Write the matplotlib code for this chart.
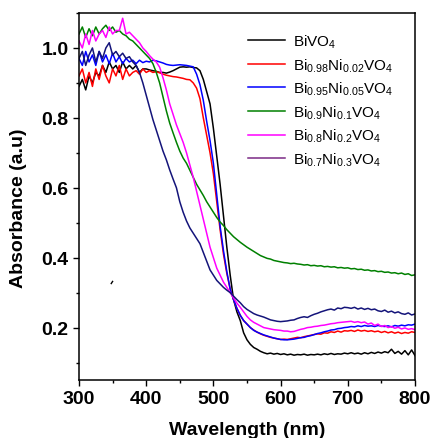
import numpy as np
import matplotlib
matplotlib.use("Agg")
import matplotlib.pyplot as plt
from matplotlib.ticker import MultipleLocator

plt.rcParams['font.family'] = ['Liberation Sans', 'DejaVu Sans']
plt.rcParams['mathtext.fontset'] = 'custom'
plt.rcParams['mathtext.rm'] = 'Liberation Sans'
plt.rcParams['mathtext.it'] = 'Liberation Sans:italic'
plt.rcParams['mathtext.bf'] = 'Liberation Sans:bold'

# wavelength grid, 5 nm steps
wavelength = np.arange(300, 801, 5)

bivo4 = [
    0.89, 0.91, 0.88, 0.92, 0.90, 0.93, 0.92, 0.95, 0.93, 0.96,
    0.94, 0.95, 0.93, 0.96, 0.94, 0.95, 0.94, 0.95, 0.93, 0.94,
    0.94, 0.937, 0.935, 0.933, 0.93, 0.93, 0.928, 0.931, 0.935, 0.94,
    0.945, 0.946, 0.945, 0.946, 0.944, 0.943, 0.935, 0.91, 0.875, 0.84,
    0.77, 0.69, 0.61, 0.52, 0.43, 0.35, 0.28, 0.245, 0.22, 0.185,
    0.165, 0.152, 0.143, 0.138, 0.132, 0.128, 0.125, 0.127, 0.124, 0.126,
    0.123, 0.125, 0.122, 0.124, 0.121, 0.123, 0.122, 0.124, 0.121, 0.123,
    0.122, 0.124, 0.122, 0.125, 0.123, 0.126, 0.123, 0.125, 0.124, 0.127,
    0.125, 0.128, 0.125, 0.127, 0.124, 0.128, 0.125, 0.129, 0.126, 0.130,
    0.127, 0.131, 0.128, 0.138, 0.126, 0.132, 0.124, 0.134, 0.122, 0.136,
    0.120,
]

ni002 = [
    0.92, 0.94, 0.90, 0.93, 0.89, 0.94, 0.91, 0.95, 0.92, 0.90,
    0.94, 0.92, 0.95, 0.91, 0.94, 0.92, 0.93, 0.935, 0.925, 0.94,
    0.93, 0.935, 0.93, 0.932, 0.929, 0.925, 0.922, 0.92, 0.918, 0.917,
    0.915, 0.913, 0.91, 0.909, 0.90, 0.885, 0.855, 0.80, 0.75, 0.70,
    0.64, 0.56, 0.48, 0.41, 0.355, 0.31, 0.28, 0.255, 0.235, 0.22,
    0.21, 0.20, 0.193, 0.187, 0.182, 0.178, 0.175, 0.172, 0.170, 0.168,
    0.166, 0.167, 0.166, 0.168, 0.170, 0.172, 0.171, 0.174, 0.176, 0.178,
    0.180, 0.182, 0.181, 0.185, 0.184, 0.188, 0.186, 0.190, 0.187, 0.191,
    0.190, 0.192, 0.189, 0.193, 0.190, 0.192, 0.189, 0.191, 0.188, 0.190,
    0.186, 0.189, 0.185, 0.188, 0.184, 0.187, 0.183, 0.186, 0.184, 0.188,
    0.186,
]

ni005 = [
    0.97, 0.95, 0.99, 0.96, 0.98, 0.95, 0.99, 0.96, 0.98, 0.955,
    0.985, 0.96, 0.975, 0.955, 0.97, 0.96, 0.965, 0.955, 0.965, 0.958,
    0.962, 0.96, 0.965, 0.963, 0.96, 0.957, 0.953, 0.951, 0.95, 0.951,
    0.952, 0.951, 0.95, 0.948, 0.946, 0.925, 0.895, 0.85, 0.79, 0.735,
    0.67, 0.58, 0.49, 0.42, 0.36, 0.31, 0.28, 0.255, 0.235, 0.22,
    0.21, 0.20, 0.192, 0.187, 0.183, 0.179, 0.176, 0.173, 0.170, 0.168,
    0.166, 0.165, 0.165, 0.166, 0.167, 0.169, 0.171, 0.172, 0.175, 0.177,
    0.180, 0.183, 0.185, 0.188, 0.190, 0.193, 0.194, 0.197, 0.198, 0.200,
    0.201, 0.203, 0.202, 0.205, 0.203, 0.206, 0.204, 0.205, 0.203, 0.206,
    0.204, 0.203, 0.205, 0.202, 0.206, 0.204, 0.207, 0.205, 0.208, 0.207,
    0.210,
]

ni01 = [
    1.04, 1.06, 1.03, 1.055, 1.035, 1.06, 1.04, 1.055, 1.065, 1.05,
    1.06, 1.045, 1.05, 1.04, 1.035, 1.025, 1.02, 1.01, 1.00, 0.99,
    0.98, 0.97, 0.955, 0.93, 0.90, 0.86, 0.82, 0.785, 0.757, 0.73,
    0.705, 0.685, 0.67, 0.65, 0.63, 0.61, 0.594, 0.578, 0.56, 0.545,
    0.53, 0.515, 0.502, 0.492, 0.48, 0.47, 0.46, 0.452, 0.444, 0.437,
    0.43, 0.424, 0.418, 0.412, 0.406, 0.402, 0.398, 0.396, 0.392, 0.39,
    0.388, 0.386, 0.385, 0.383, 0.384, 0.382, 0.381, 0.379, 0.38, 0.377,
    0.378, 0.376, 0.377, 0.374, 0.375, 0.373, 0.374, 0.371, 0.372, 0.37,
    0.371, 0.368, 0.369, 0.366, 0.367, 0.364, 0.365, 0.362, 0.363, 0.36,
    0.361, 0.358, 0.359, 0.356, 0.357, 0.354, 0.356, 0.352, 0.354, 0.349,
    0.351,
]

ni02 = [
    1.02, 1.00, 1.04, 1.01, 1.05, 1.02, 1.04, 1.05, 1.03, 1.06,
    1.04, 1.05, 1.05, 1.085, 1.04, 1.045, 1.035, 1.025, 1.015, 1.00,
    0.99, 0.978, 0.968, 0.96, 0.945, 0.915, 0.88, 0.84, 0.81, 0.78,
    0.755, 0.73, 0.70, 0.665, 0.63, 0.59, 0.55, 0.51, 0.47, 0.43,
    0.40, 0.37, 0.35, 0.33, 0.315, 0.30, 0.285, 0.27, 0.258, 0.245,
    0.232, 0.222, 0.215, 0.21, 0.205, 0.20, 0.198, 0.196, 0.194, 0.193,
    0.192, 0.19, 0.19, 0.188, 0.189, 0.192, 0.195, 0.197, 0.20, 0.201,
    0.203, 0.204, 0.206, 0.207, 0.209, 0.211, 0.212, 0.214, 0.215, 0.216,
    0.217, 0.218, 0.215, 0.217, 0.214, 0.216, 0.21, 0.213, 0.206, 0.21,
    0.203, 0.206, 0.20, 0.203, 0.198, 0.201, 0.196, 0.199, 0.195, 0.197,
    0.194,
]

ni03 = [
    0.97, 0.99, 0.95, 0.98, 1.00, 0.96, 0.99, 0.97, 1.00, 1.015,
    0.98, 0.99, 0.975, 0.985, 0.97, 0.975, 0.96, 0.95, 0.93, 0.90,
    0.865, 0.83, 0.795, 0.765, 0.735, 0.705, 0.68, 0.651, 0.625, 0.60,
    0.56, 0.53, 0.505, 0.485, 0.47, 0.455, 0.44, 0.415, 0.39, 0.365,
    0.35, 0.335, 0.325, 0.315, 0.307, 0.30, 0.29, 0.28, 0.271, 0.26,
    0.252, 0.246, 0.24, 0.236, 0.233, 0.23, 0.226, 0.222, 0.22, 0.218,
    0.217, 0.218, 0.219, 0.221, 0.222, 0.226, 0.229, 0.231, 0.229, 0.234,
    0.238, 0.241, 0.245, 0.248, 0.251, 0.253, 0.25, 0.256, 0.254, 0.258,
    0.257, 0.255, 0.258, 0.253, 0.256, 0.252, 0.255, 0.251, 0.253, 0.248,
    0.246, 0.25, 0.244, 0.247, 0.242, 0.245, 0.24, 0.238, 0.242, 0.236,
    0.239,
]

# small stray mark visible on the original
stray_x = [348, 350]
stray_y = [0.326, 0.332]

labels = [
    r'BiVO$_4$',
    r'Bi$_{0.98}$Ni$_{0.02}$VO$_4$',
    r'Bi$_{0.95}$Ni$_{0.05}$VO$_4$',
    r'Bi$_{0.9}$Ni$_{0.1}$VO$_4$',
    r'Bi$_{0.8}$Ni$_{0.2}$VO$_4$',
    r'Bi$_{0.7}$Ni$_{0.3}$VO$_4$',
]
series = [bivo4, ni002, ni005, ni01, ni02, ni03]
colors = ['black', '#ff0000', '#0000ff', '#008000', '#ff00ff', '#14147a']

fig = plt.figure(figsize=(4.3, 4.39), dpi=100)
ax = fig.add_axes([0.1837, 0.1321, 0.7814, 0.836])

for y, c, lab in zip(series, colors, labels):
    ax.plot(wavelength, y, color=c, lw=1.1, label=lab)
ax.plot(stray_x, stray_y, color='black', lw=1.0)

ax.set_xlim(300, 800)
ax.set_ylim(0.05, 1.1)
ax.xaxis.set_major_locator(MultipleLocator(100))
ax.xaxis.set_minor_locator(MultipleLocator(50))
ax.yaxis.set_major_locator(MultipleLocator(0.2))
ax.yaxis.set_minor_locator(MultipleLocator(0.1))
ax.set_yticks([0.2, 0.4, 0.6, 0.8, 1.0])

ax.tick_params(which='major', direction='out', length=4.5, width=1.0,
               labelsize=14, pad=3)
ax.tick_params(which='minor', direction='out', length=2.5, width=1.0)
for lbl in ax.get_xticklabels() + ax.get_yticklabels():
    lbl.set_fontweight('bold')
for s in ax.spines.values():
    s.set_linewidth(1.1)

ax.set_xlabel('Wavelength (nm)', fontsize=14, fontweight='bold', labelpad=10)
ax.set_ylabel('Absorbance (a.u)', fontsize=14, fontweight='bold')
ax.yaxis.set_label_coords(-0.155, 0.47)

leg = ax.legend(loc='upper left', bbox_to_anchor=(0.503, 0.946), frameon=False,
                fontsize=11, handlelength=2.45, handletextpad=0.5,
                labelspacing=0.4, borderpad=0, borderaxespad=0)
leg.get_lines()[5].set_color('#7b2a85')

fig.savefig('out.png', dpi=100)
